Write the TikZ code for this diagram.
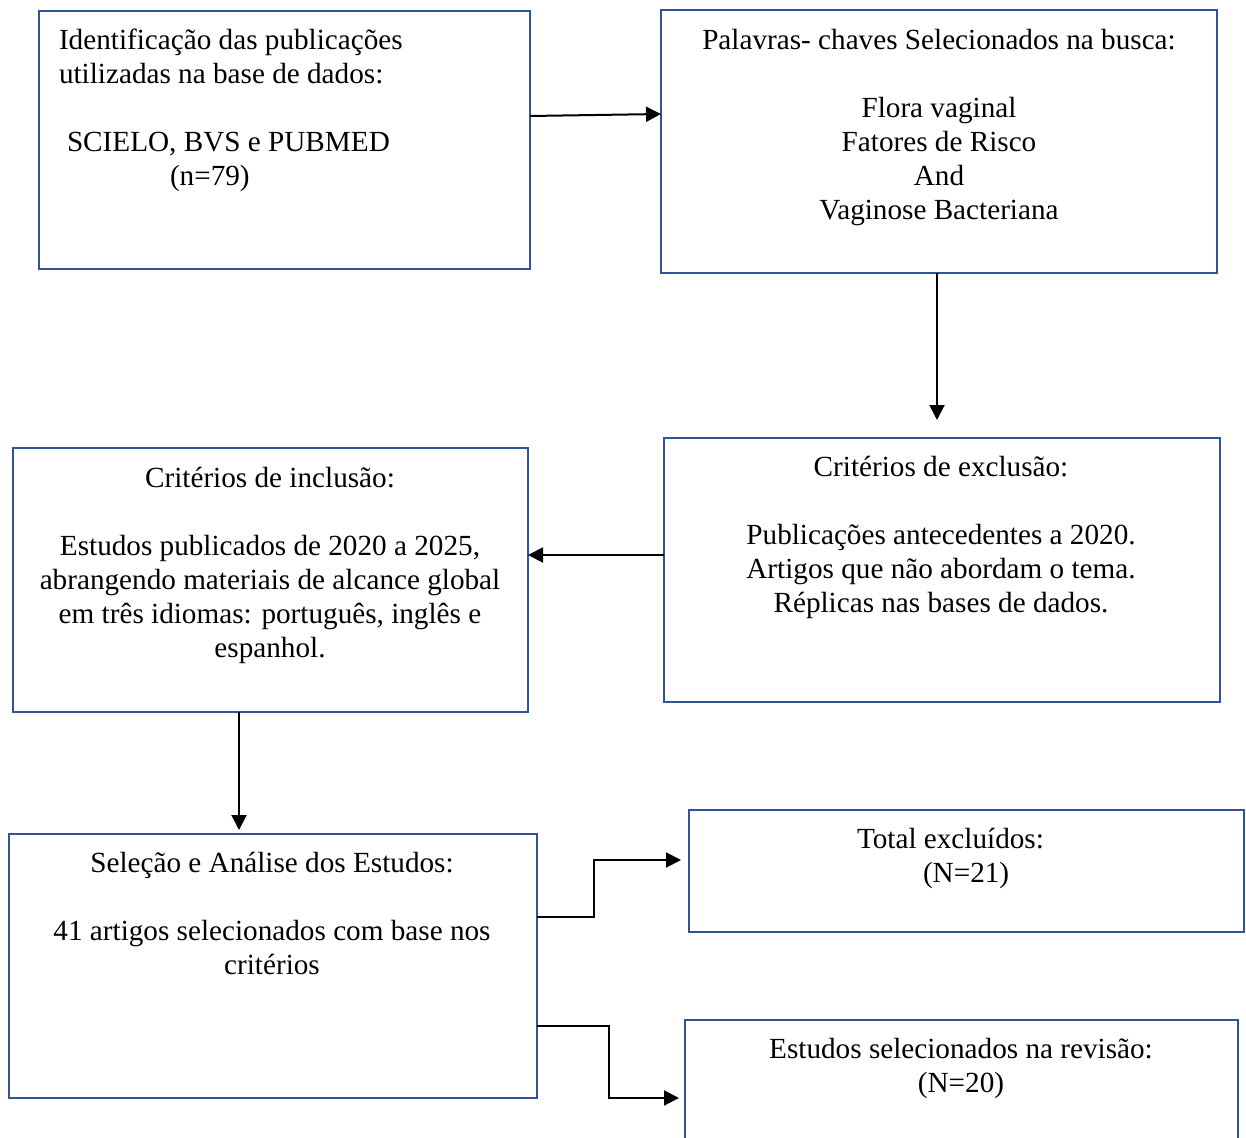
\documentclass[tikz,border=0pt]{standalone}
\usepackage{fontspec}
\setmainfont{Liberation Serif}
\usetikzlibrary{arrows.meta}
\definecolor{boxblue}{RGB}{47,85,151}
\begin{document}
\begin{tikzpicture}[x=1pt,y=-1pt,
  box/.style={draw=boxblue, line width=2pt, inner sep=0pt, outer sep=0pt, anchor=north west},
  txt/.style={inner sep=0pt, outer sep=0pt, font=\fontsize{29.2}{34}\selectfont},
  arr/.style={line width=2pt, -{Triangle[length=15pt,width=15pt]}}]
\useasboundingbox (0,0) rectangle (1246,1137);
\clip (0,0) rectangle (1246,1137);
% boxes
\node[box, minimum width=491pt, minimum height=258pt] (A) at (39,11) {};
\node[box, minimum width=556pt, minimum height=263pt] (B) at (661,10) {};
\node[box, minimum width=556pt, minimum height=264pt] (C) at (664,438) {};
\node[box, minimum width=515pt, minimum height=264pt] (D) at (13,448) {};
\node[box, minimum width=528pt, minimum height=264pt] (E) at (9,834) {};
\node[box, minimum width=555pt, minimum height=122pt] (F) at (689,810) {};
\node[box, minimum width=553pt, minimum height=160pt] (G) at (685,1020) {};
% texts
\node[txt, align=left, anchor=north west] (At) at (59,25.4) {\strut Identificação das publicações\\
utilizadas na base de dados:\\[34pt]
\hspace*{8pt}SCIELO, BVS e PUBMED\\
\hspace*{111pt}(n=79)};
\node[txt, align=center, anchor=north] (Bt) at (939,25.4) {\strut Palavras- chaves Selecionados na busca:\\[34pt]
Flora vaginal\\ Fatores de Risco\\ And\\ Vaginose Bacteriana};
\node[txt, align=center, anchor=north] (Ct) at (941,452.6) {\strut Critérios de exclusão:\\[34pt]
Publicações antecedentes a 2020.\\ Artigos que não abordam o tema.\\ Réplicas nas bases de dados.};
\node[txt, align=center, anchor=north] (Dt) at (270,463.4) {\strut Critérios de inclusão:\\[34pt]
Estudos publicados de 2020 a 2025,\\ abrangendo materiais de alcance global\\ em três idiomas: português, inglês e\\ espanhol.};
\node[txt, align=center, anchor=north] (Et) at (272,848.4) {\strut Seleção e Análise dos Estudos:\\[34pt]
41 artigos selecionados com base nos\\ critérios};
\node[txt, align=left, anchor=north west] (Ft) at (857,824.4) {\strut Total excluídos:\\ \hspace*{66pt}(N=21)};
\node[txt, align=center, anchor=north] (Gt) at (961,1034.4) {\strut Estudos selecionados na revisão:\\ (N=20)};
% connectors
\coordinate (bc) at (937,420);
\coordinate (de) at (239,830);
\coordinate (cd) at ([yshift=-117pt]C.north west);
\draw[arr] ([yshift=-105pt]A.north east) -- ([yshift=-104pt]B.north west);
\draw[arr] (B.south -| bc) -- (bc);
\draw[arr] (cd) -- (D.east |- cd);
\draw[arr] (D.south -| de) -- (de);
\draw[arr] ([yshift=-83pt]E.north east) -- ++(57,0) |- ([xshift=-8pt,yshift=-50pt]F.north west);
\draw[arr] ([yshift=-192pt]E.north east) -- ++(72,0) |- ([xshift=-6pt,yshift=-78pt]G.north west);
\end{tikzpicture}
\end{document}
